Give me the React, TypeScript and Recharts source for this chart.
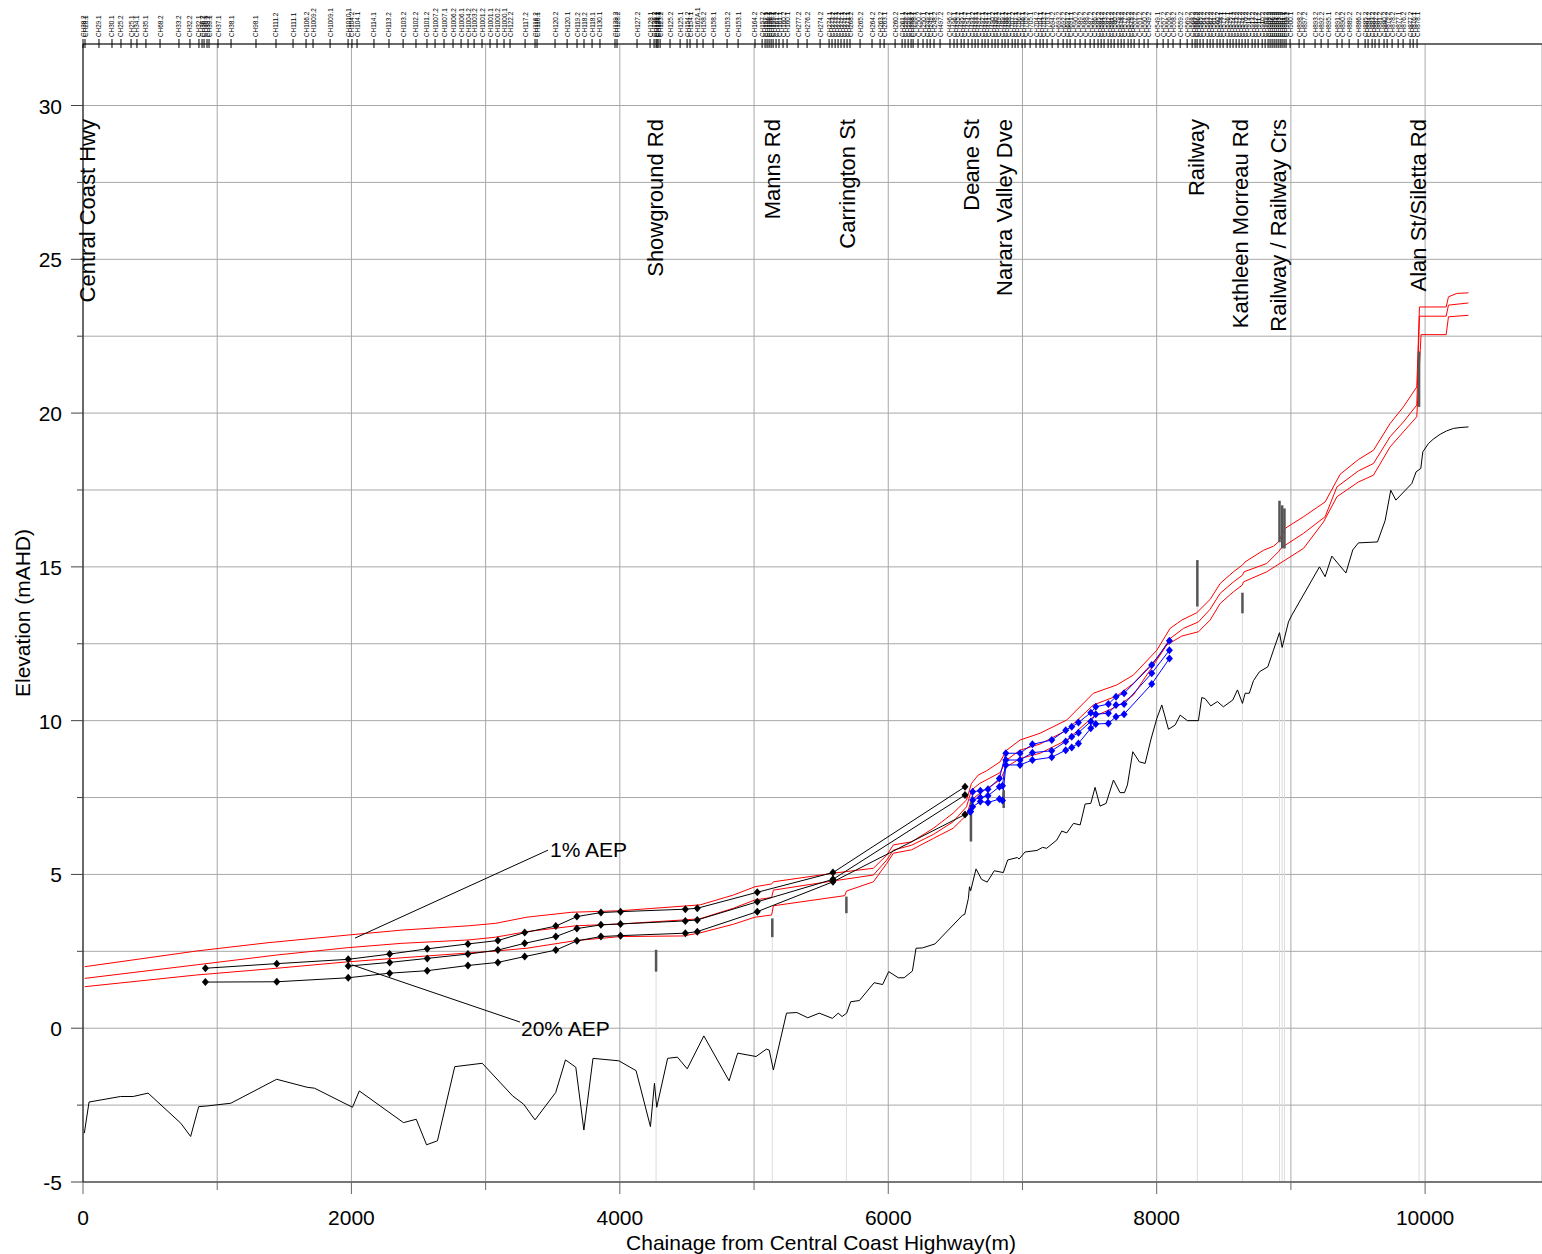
import React from 'react';
import { LineChart, Line, XAxis, YAxis, CartesianGrid, ReferenceLine, ReferenceDot } from 'recharts';

const FONT = '"Liberation Sans", Arial, sans-serif';

// [chainage (m), elevation (mAHD)]
const bedLevel: [number, number][] = [
  [10, -3.41], [45, -2.4], [280, -2.22], [374, -2.22], [485, -2.11], [729, -3.09], [802, -3.52],
  [862, -2.55], [921, -2.53], [1101, -2.44], [1443, -1.66], [1670, -1.92], [1725, -1.95],
  [2008, -2.57], [2059, -2.04], [2388, -3.07], [2483, -2.96], [2560, -3.79], [2641, -3.66],
  [2770, -1.25], [2975, -1.14], [3201, -2.2], [3283, -2.47], [3368, -2.98], [3522, -2.09],
  [3595, -1.03], [3672, -1.27], [3732, -3.31], [3800, -0.98], [3993, -1.06], [4121, -1.38],
  [4228, -3.2], [4258, -1.79], [4275, -2.57], [4356, -0.98], [4429, -0.94], [4502, -1.32],
  [4626, -0.25], [4814, -1.71], [4878, -0.81], [5015, -0.92], [5092, -0.68], [5113, -0.71],
  [5144, -1.36], [5242, 0.49], [5319, 0.51], [5400, 0.34], [5486, 0.49], [5584, 0.32],
  [5627, 0.49], [5656, 0.38], [5690, 0.49], [5720, 0.86], [5785, 0.9], [5895, 1.48],
  [5958, 1.42], [6003, 1.84], [6075, 1.64], [6118, 1.64], [6180, 1.86], [6207, 2.6],
  [6254, 2.61], [6348, 2.74], [6555, 3.68], [6570, 3.7], [6597, 4.22], [6605, 4.6],
  [6614, 4.47], [6654, 5.18], [6695, 4.84], [6737, 4.75], [6790, 5.12], [6857, 5.06],
  [6890, 5.47], [6962, 5.55], [6975, 5.5], [7019, 5.73], [7108, 5.78], [7150, 5.88],
  [7180, 5.85], [7256, 6.12], [7293, 6.41], [7330, 6.35], [7380, 6.66], [7430, 6.61],
  [7467, 7.29], [7509, 7.31], [7541, 7.83], [7578, 7.22], [7623, 7.31], [7678, 8.07],
  [7727, 7.66], [7760, 7.66], [7782, 7.91], [7822, 8.99], [7871, 8.66], [7914, 8.61],
  [7956, 9.37], [8001, 10.07], [8038, 10.51], [8088, 9.72], [8138, 9.86], [8175, 10.18],
  [8229, 10.0], [8311, 10.0], [8336, 10.75], [8360, 10.72], [8403, 10.48], [8452, 10.62],
  [8497, 10.45], [8567, 10.67], [8602, 11.0], [8639, 10.56], [8659, 10.89], [8690, 10.89],
  [8721, 11.3], [8766, 11.59], [8828, 11.75], [8870, 12.29], [8915, 12.86], [8935, 12.38],
  [8982, 13.21], [9007, 13.43], [9213, 15.0], [9255, 14.68], [9305, 15.35], [9410, 14.8],
  [9461, 15.55], [9503, 15.78], [9645, 15.81], [9702, 16.5], [9744, 17.49], [9782, 17.17],
  [9901, 17.71], [9933, 18.09], [9968, 18.2], [9983, 18.74], [10025, 19.01], [10060, 19.15],
  [10112, 19.31], [10160, 19.42], [10211, 19.5], [10260, 19.53], [10323, 19.55],
];

// modelled flood levels along the full reach
const floodLevelHigh: [number, number][] = [
  [13, 2.0], [845, 2.51], [1378, 2.78], [1976, 3.03], [2376, 3.19], [2874, 3.33], [3074, 3.41],
  [3307, 3.61], [3640, 3.77], [4005, 3.82], [4473, 3.97], [4598, 4.01], [4846, 4.33],
  [5007, 4.6], [5131, 4.69], [5144, 4.76], [5591, 5.04], [5889, 5.2], [5989, 5.63],
  [6038, 5.96], [6174, 6.06], [6336, 6.5], [6483, 6.99], [6583, 7.42], [6620, 7.96],
  [6670, 8.23], [6733, 8.37], [6833, 8.66], [6882, 9.04], [6982, 9.37], [7131, 9.59],
  [7330, 10.02], [7528, 10.89], [7702, 11.16], [7826, 11.48], [8001, 12.29], [8100, 13.0],
  [8187, 13.27], [8299, 13.51], [8398, 13.94], [8473, 14.46], [8572, 14.84], [8639, 15.06],
  [8659, 15.16], [8796, 15.54], [8870, 15.67], [8907, 15.81], [8957, 16.25], [9094, 16.63],
  [9255, 17.11], [9367, 18.01], [9503, 18.49], [9615, 18.79], [9739, 19.66], [9838, 20.2],
  [9938, 20.85], [9958, 23.45], [10157, 23.45], [10174, 23.78], [10236, 23.89], [10323, 23.91],
];
const floodLevelMid: [number, number][] = [
  [13, 1.62], [845, 2.06], [1444, 2.38], [1976, 2.62], [2376, 2.76], [2874, 2.87], [3074, 2.96],
  [3307, 3.14], [3673, 3.33], [4005, 3.39], [4473, 3.52], [4598, 3.56], [4846, 3.9],
  [5007, 4.17], [5131, 4.25], [5144, 4.49], [5591, 4.79], [5889, 4.98], [5989, 5.47],
  [6038, 5.79], [6174, 5.95], [6336, 6.3], [6483, 6.71], [6583, 7.2], [6620, 7.74],
  [6682, 7.96], [6833, 8.31], [6882, 8.72], [6982, 9.04], [7131, 9.24], [7330, 9.69],
  [7528, 10.51], [7702, 10.8], [7826, 11.21], [8013, 12.08], [8100, 12.67], [8200, 13.0],
  [8311, 13.21], [8398, 13.62], [8473, 14.14], [8572, 14.51], [8639, 14.73], [8651, 14.84],
  [8820, 15.11], [8907, 15.49], [8932, 15.63], [9094, 16.09], [9255, 16.63], [9343, 17.6],
  [9503, 18.12], [9615, 18.36], [9739, 19.23], [9838, 19.71], [9938, 20.26], [9958, 23.15],
  [10157, 23.15], [10174, 23.51], [10323, 23.58],
];
const floodLevelLow: [number, number][] = [
  [13, 1.35], [845, 1.73], [1444, 1.95], [1976, 2.16], [2376, 2.29], [3074, 2.51], [3307, 2.6],
  [3673, 2.85], [4005, 2.98], [4473, 3.0], [4598, 3.1], [4846, 3.38], [5007, 3.61],
  [5131, 3.68], [5144, 3.98], [5676, 4.31], [5689, 4.46], [5889, 4.76], [5989, 5.36],
  [6038, 5.69], [6174, 5.8], [6336, 6.17], [6483, 6.5], [6583, 6.93], [6620, 7.42],
  [6682, 7.64], [6833, 8.07], [6882, 8.5], [6982, 8.77], [7131, 8.94], [7330, 9.37],
  [7528, 10.13], [7702, 10.45], [7826, 10.83], [8075, 12.46], [8187, 12.75], [8311, 12.89],
  [8398, 13.27], [8473, 13.81], [8572, 14.19], [8639, 14.41], [8646, 14.51], [8820, 14.84],
  [8957, 15.22], [9094, 15.6], [9243, 16.46], [9343, 17.28], [9503, 17.76], [9615, 17.98],
  [9739, 18.9], [9838, 19.39], [9938, 19.88], [9970, 22.55], [10157, 22.55], [10174, 23.13],
  [10323, 23.18],
];

// lower reach cross-section results (black)
const lowerReach1pc: [number, number][] = [
  [912, 1.95], [1444, 2.1], [1976, 2.24], [2285, 2.41], [2565, 2.58], [2868, 2.74], [3091, 2.85],
  [3291, 3.11], [3523, 3.32], [3680, 3.63], [3859, 3.76], [4005, 3.79], [4488, 3.87],
  [4577, 3.9], [5024, 4.42], [5588, 5.06], [6572, 7.85],
];
const lowerReach5pc: [number, number][] = [
  [1976, 2.02], [2285, 2.14], [2565, 2.27], [2868, 2.41], [3091, 2.54], [3291, 2.76],
  [3523, 2.98], [3680, 3.24], [3859, 3.36], [4005, 3.39], [4488, 3.49], [4577, 3.52],
  [5024, 4.11], [5588, 4.84], [6572, 7.58],
];
const lowerReach20pc: [number, number][] = [
  [912, 1.5], [1444, 1.51], [1976, 1.64], [2285, 1.79], [2565, 1.87], [2868, 2.04], [3091, 2.14],
  [3291, 2.33], [3523, 2.54], [3680, 2.84], [3859, 2.98], [4005, 3.01], [4488, 3.09],
  [4577, 3.14], [5024, 3.79], [5588, 4.76], [6572, 6.95],
];

// upper reach cross-section results (blue)
const upperReach1pc: [number, number][] = [
  [6612, 7.05], [6629, 7.69], [6686, 7.72], [6743, 7.77], [6828, 8.12], [6876, 8.94],
  [6982, 8.94], [7074, 9.23], [7218, 9.37], [7322, 9.69], [7367, 9.8], [7417, 9.94],
  [7509, 10.26], [7546, 10.45], [7640, 10.54], [7697, 10.78], [7757, 10.89], [7963, 11.81],
  [8095, 12.6],
];
const upperReach5pc: [number, number][] = [
  [6612, 7.05], [6629, 7.42], [6686, 7.5], [6743, 7.56], [6828, 7.85], [6851, 7.88],
  [6876, 8.72], [6982, 8.72], [7074, 8.96], [7218, 9.02], [7322, 9.32], [7367, 9.48],
  [7417, 9.61], [7509, 9.97], [7546, 10.21], [7640, 10.24], [7697, 10.51], [7757, 10.54],
  [7963, 11.54], [8095, 12.29],
];
const upperReach20pc: [number, number][] = [
  [6612, 7.04], [6629, 7.2], [6686, 7.37], [6743, 7.34], [6828, 7.45], [6851, 7.4],
  [6876, 8.56], [6982, 8.56], [7074, 8.72], [7218, 8.81], [7322, 9.04], [7367, 9.13],
  [7417, 9.26], [7509, 9.75], [7546, 9.89], [7640, 9.91], [7697, 10.13], [7757, 10.21],
  [7963, 11.19], [8095, 12.02],
];

// crossings: chainage, soffit/obvert range
const structureChainage = [4270, 5136, 5688, 6616, 6860, 8303, 8639, 8915, 8935, 8952, 9955];
const structureBottom = [1.84, 2.96, 3.74, 6.07, 7.16, 13.71, 13.49, 15.8, 15.6, 15.6, 20.2];
const structureTop = [2.55, 3.57, 4.28, 7.37, 7.74, 15.22, 14.16, 17.15, 17.0, 16.9, 22.0];

const roadNames = [
  'Central Coast Hwy', 'Showground Rd', 'Manns Rd', 'Carrington St', 'Deane St',
  'Narara Valley Dve', 'Railway', 'Kathleen Morreau Rd', 'Railway / Railway Crs', 'Alan St/Siletta Rd',
];
const roadChainage = [37, 4262, 5134, 5700, 6617, 6863, 8294, 8621, 8905, 9948];

const aepLabels = ['1% AEP', '20% AEP'];
const aepLeaderFrom: [number, number][] = [[2027, 2.93], [2004, 2.06]];
const aepLeaderTo: [number, number][] = [[3465, 5.79], [3256, 0.2]];
const aepTextAt: [number, number][] = [[3487, 5.8], [3271, 0.0]];

const sectionLabels = [
  'CH28.2', 'CH28.1', 'CH29.1', 'CH30.1', 'CH25.2', 'CH25.1', 'CH34.1', 'CH35.1', 'CH68.2', 'CH33.2',
  'CH32.2', 'CH32.1', 'CH36.2', 'CH36.1', 'CH39.2', 'CH39.1', 'CH37.1', 'CH38.1', 'CH98.1', 'CH111.2',
  'CH111.1', 'CH106.2', 'CH1009.2', 'CH1009.1', 'CH1010.1', 'CH104.2', 'CH104.1', 'CH114.1', 'CH113.2', 'CH103.2',
  'CH102.2', 'CH101.2', 'CH1007.2', 'CH1007.1', 'CH1006.2', 'CH1006.1', 'CH1004.2', 'CH1003.2', 'CH1001.2', 'CH1001.1',
  'CH1000.2', 'CH1000.1', 'CH122.2', 'CH117.2', 'CH116.2', 'CH116.1', 'CH120.2', 'CH120.1', 'CH119.2', 'CH118.2',
  'CH118.1', 'CH130.1', 'CH129.2', 'CH128.2', 'CH127.2', 'CH128.1', 'CH126.2', 'CH126.1', 'CH124.2', 'CH124.1',
  'CH123.2', 'CH125.2', 'CH125.1', 'CH154.2', 'CH154.1', 'CH162A.1', 'CH158.2', 'CH158.1', 'CH153.2', 'CH153.1',
  'CH164.2', 'CH157.2', 'CH157.1', 'CH156.2', 'CH156.1', 'CH155.2', 'CH155.1', 'CH161.2', 'CH161.1', 'CH160.2',
  'CH160.1', 'CH277.2', 'CH276.2', 'CH274.2', 'CH274.1', 'CH273.2', 'CH273.1', 'CH272.2', 'CH272.1', 'CH271.2',
  'CH271.1', 'CH268.2', 'CH265.2', 'CH264.2', 'CH263.2', 'CH263.1', 'CH260.2', 'CH261.1', 'CH259.2', 'CH259.1',
  'CH258.2', 'CH258.1', 'CH250.2', 'CH250.1', 'CH249.2', 'CH249.1', 'CH248.2', 'CH497.2', 'CH496.2', 'CH496.1',
  'CH495.2', 'CH495.1', 'CH494.2', 'CH494.1', 'CH493.2', 'CH493.1', 'CH492.2', 'CH492.1', 'CH491.2', 'CH491.1',
  'CH490.2', 'CH490.1', 'CH489.2', 'CH489.1', 'CH488.2', 'CH488.1', 'CH707.2', 'CH707.1', 'CH706.2', 'CH706.1',
  'CH705.2', 'CH705.1', 'CH704.2', 'CH704.1', 'CH703.2', 'CH703.1', 'CH694.2', 'CH693.2', 'CH692.2', 'CH691.2',
  'CH691.1', 'CH590.2', 'CH589.2', 'CH588.2', 'CH587.2', 'CH586.2', 'CH585.2', 'CH584.2', 'CH583.2', 'CH582.2',
  'CH581.2', 'CH580.2', 'CH579.2', 'CH578.2', 'CH577.2', 'CH576.2', 'CH575.2', 'CH552.2', 'CH551.2', 'CH550.2',
  'CH549.2', 'CH549.1', 'CH557.2', 'CH556.2', 'CH558.2', 'CH559.2', 'CH569.2', 'CH568.2', 'CH567.2', 'CH566.2',
  'CH565.2', 'CH564.2', 'CH563.2', 'CH562.2', 'CH561.2', 'CH560.2', 'CH578.1', 'CH577.1', 'CH576.1', 'CH575.1',
  'CH574.2', 'CH573.2', 'CH572.2', 'CH571.2', 'CH570.2', 'CH914.2', 'CH913.2', 'CH912.2', 'CH911.2', 'CH910.2',
  'CH909.2', 'CH908.2', 'CH907.2', 'CH906.2', 'CH905.2', 'CH904.2', 'CH903.2', 'CH902.2', 'CH901.2', 'CH901.1',
  'CH900.2', 'CH900.1', 'CH898.2', 'CH897.2', 'CH893.2', 'CH892.2', 'CH895.1', 'CH891.2', 'CH890.2', 'CH889.2',
  'CH886.2', 'CH885.2', 'CH884.2', 'CH883.2', 'CH882.2', 'CH881.2', 'CH880.2', 'CH879.2', 'CH878.2', 'CH877.1',
  'CH876.2', 'CH877.2', 'CH876.1', 'CH878.1',
];
const sectionChainage = [
  0, 15, 119, 216, 283, 358, 402, 469, 574, 715,
  797, 864, 887, 902, 924, 939, 1006, 1103, 1289, 1438,
  1565, 1662, 1714, 1841, 1975, 2004, 2042, 2168, 2280, 2385,
  2481, 2563, 2623, 2690, 2757, 2817, 2869, 2914, 2973, 3033,
  3085, 3137, 3182, 3294, 3368, 3383, 3517, 3607, 3681, 3733,
  3793, 3852, 3964, 3979, 4128, 4225, 4255, 4270, 4277, 4285,
  4300, 4374, 4449, 4501, 4523, 4575, 4620, 4695, 4799, 4881,
  5007, 5060, 5082, 5097, 5112, 5127, 5142, 5164, 5186, 5216,
  5246, 5328, 5395, 5492, 5559, 5581, 5604, 5626, 5648, 5671,
  5693, 5715, 5790, 5879, 5939, 5969, 6051, 6103, 6125, 6148,
  6170, 6185, 6222, 6259, 6289, 6312, 6341, 6386, 6460, 6490,
  6513, 6543, 6565, 6595, 6624, 6647, 6669, 6699, 6721, 6744,
  6773, 6796, 6818, 6848, 6870, 6893, 6923, 6945, 6967, 6997,
  7019, 7057, 7101, 7131, 7154, 7183, 7221, 7265, 7303, 7332,
  7355, 7392, 7429, 7467, 7504, 7534, 7563, 7586, 7608, 7638,
  7660, 7683, 7712, 7735, 7757, 7787, 7809, 7832, 7869, 7906,
  7936, 8003, 8048, 8085, 8122, 8175, 8227, 8264, 8286, 8301,
  8323, 8346, 8376, 8398, 8420, 8450, 8472, 8495, 8525, 8547,
  8569, 8592, 8614, 8636, 8659, 8681, 8711, 8733, 8756, 8786,
  8808, 8830, 8845, 8860, 8875, 8890, 8905, 8920, 8934, 8949,
  8964, 8994, 9061, 9098, 9180, 9225, 9277, 9344, 9381, 9434,
  9501, 9553, 9575, 9605, 9627, 9657, 9694, 9717, 9754, 9799,
  9836, 9888, 9911, 9940,
];

const chainageTicks = [0, 1000, 2000, 3000, 4000, 5000, 6000, 7000, 8000, 9000, 10000];
const elevationTicks = [-5, -2.5, 0, 2.5, 5, 7.5, 10, 12.5, 15, 17.5, 20, 22.5, 25, 27.5, 30];

const pts = (arr: [number, number][]) => arr.map(([c, e]) => ({ c, e }));

const diamond = (color: string) => (p: any) => {
  const { cx, cy, index } = p;
  if (cx == null || cy == null) return <g key={index} />;
  return (
    <path
      key={index}
      d={`M${cx} ${cy - 4}L${cx + 3.5} ${cy}L${cx} ${cy + 4}L${cx - 3.5} ${cy}Z`}
      fill={color}
    />
  );
};

function SectionTick(props: any) {
  const { x, y, index } = props;
  return (
    <g>
      <line x1={x} y1={y - 5} x2={x} y2={y + 4} stroke="#000" strokeWidth={1} />
      <text
        x={x}
        y={y - 7}
        transform={`rotate(-90 ${x} ${y - 7})`}
        fontSize={6.4}
        fontFamily={FONT}
        textAnchor="start"
        dominantBaseline="central"
        fill="#000"
      >
        {sectionLabels[index]}
      </text>
    </g>
  );
}

function ChainageTick(props: any) {
  const { x, y, payload } = props;
  const major = payload.value % 2000 === 0;
  return (
    <g>
      <line x1={x} y1={y} x2={x} y2={y + (major ? 12 : 8)} stroke="#666" strokeWidth={1} />
      {major && (
        <text x={x} y={y + 43} textAnchor="middle" fontSize={21} fontFamily={FONT} fill="#000">
          {payload.value}
        </text>
      )}
    </g>
  );
}

function ElevationTick(props: any) {
  const { x, y, payload } = props;
  const major = payload.value % 5 === 0;
  return (
    <g>
      <line x1={x - (major ? 12 : 6)} y1={y} x2={x} y2={y} stroke="#444" strokeWidth={1} />
      {major && (
        <text x={x - 21} y={y + 8} textAnchor="end" fontSize={21} fontFamily={FONT} fill="#000">
          {payload.value}
        </text>
      )}
    </g>
  );
}

const roadLabel = (name: string) => (p: any) => {
  const x = p.viewBox.x + p.viewBox.width / 2;
  return (
    <text
      x={x}
      y={119}
      transform={`rotate(-90 ${x} 119)`}
      textAnchor="end"
      dominantBaseline="central"
      fontSize={22}
      fontFamily={FONT}
      fill="#000"
    >
      {name}
    </text>
  );
};

const aepLabel = (text: string) => (p: any) => (
  <text
    x={p.viewBox.x}
    y={p.viewBox.y + p.viewBox.height / 2}
    dominantBaseline="central"
    fontSize={21}
    fontFamily={FONT}
    fill="#000"
  >
    {text}
  </text>
);

export default function App() {
  return (
    <div style={{ position: 'fixed', left: 0, top: 0, width: 1542, height: 1254, background: '#fff' }}>
      <LineChart width={1542} height={1254} margin={{ top: 0, right: 0, bottom: 0, left: 0 }}>
        <CartesianGrid stroke="#a8a8a8" strokeWidth={1} />
        <XAxis
          type="number"
          dataKey="c"
          domain={[0, 10871]}
          allowDataOverflow
          ticks={chainageTicks}
          interval={0}
          height={72}
          tickSize={0}
          tickMargin={0}
          tickLine={false}
          axisLine={{ stroke: '#777', strokeWidth: 2 }}
          tick={<ChainageTick />}
          label={(p: any) => (
            <text
              x={p.viewBox.x + 738}
              y={p.viewBox.y + 68}
              textAnchor="middle"
              fontSize={21}
              fontFamily={FONT}
              fill="#000"
            >
              Chainage from Central Coast Highway(m)
            </text>
          )}
        />
        <XAxis
          xAxisId="top"
          orientation="top"
          type="number"
          dataKey="c"
          domain={[0, 10871]}
          allowDataOverflow
          ticks={sectionChainage}
          interval={0}
          height={44}
          tickSize={0}
          tickMargin={0}
          tickLine={false}
          axisLine={{ stroke: '#000', strokeWidth: 1 }}
          tick={<SectionTick />}
        />
        <YAxis
          type="number"
          domain={[-5, 32]}
          allowDataOverflow
          ticks={elevationTicks}
          interval={0}
          width={83}
          tickSize={0}
          tickMargin={0}
          tickLine={false}
          axisLine={{ stroke: '#000', strokeWidth: 1 }}
          tick={<ElevationTick />}
          label={(p: any) => (
            <text
              x={22}
              y={613}
              transform="rotate(-90 22 613)"
              textAnchor="middle"
              dominantBaseline="central"
              fontSize={21}
              fontFamily={FONT}
              fill="#000"
            >
              Elevation (mAHD)
            </text>
          )}
        />

        {structureChainage.map((c, i) => (
          <ReferenceLine
            key={`drop-${i}`}
            segment={[{ x: c, y: -5 }, { x: c, y: structureBottom[i] }]}
            stroke="#dcdcdc"
            strokeWidth={1}
          />
        ))}

        <Line data={pts(bedLevel)} dataKey="e" stroke="#000" strokeWidth={1} dot={false} activeDot={false} isAnimationActive={false} />
        <Line data={pts(floodLevelHigh)} dataKey="e" stroke="#ff0000" strokeWidth={1} dot={false} activeDot={false} isAnimationActive={false} />
        <Line data={pts(floodLevelMid)} dataKey="e" stroke="#ff0000" strokeWidth={1} dot={false} activeDot={false} isAnimationActive={false} />
        <Line data={pts(floodLevelLow)} dataKey="e" stroke="#ff0000" strokeWidth={1} dot={false} activeDot={false} isAnimationActive={false} />
        <Line data={pts(lowerReach1pc)} dataKey="e" stroke="#000" strokeWidth={1} dot={diamond('#000')} activeDot={false} isAnimationActive={false} />
        <Line data={pts(lowerReach5pc)} dataKey="e" stroke="#000" strokeWidth={1} dot={diamond('#000')} activeDot={false} isAnimationActive={false} />
        <Line data={pts(lowerReach20pc)} dataKey="e" stroke="#000" strokeWidth={1} dot={diamond('#000')} activeDot={false} isAnimationActive={false} />
        <Line data={pts(upperReach1pc)} dataKey="e" stroke="#0000ff" strokeWidth={1} dot={diamond('#0000ff')} activeDot={false} isAnimationActive={false} />
        <Line data={pts(upperReach5pc)} dataKey="e" stroke="#0000ff" strokeWidth={1} dot={diamond('#0000ff')} activeDot={false} isAnimationActive={false} />
        <Line data={pts(upperReach20pc)} dataKey="e" stroke="#0000ff" strokeWidth={1} dot={diamond('#0000ff')} activeDot={false} isAnimationActive={false} />

        {structureChainage.map((c, i) => (
          <ReferenceLine
            key={`deck-${i}`}
            segment={[{ x: c, y: structureBottom[i] }, { x: c, y: structureTop[i] }]}
            stroke="#555"
            strokeWidth={2.5}
          />
        ))}

        {aepLabels.map((t, i) => (
          <ReferenceLine
            key={`leader-${i}`}
            segment={[
              { x: aepLeaderFrom[i][0], y: aepLeaderFrom[i][1] },
              { x: aepLeaderTo[i][0], y: aepLeaderTo[i][1] },
            ]}
            stroke="#000"
            strokeWidth={1}
          />
        ))}
        {aepLabels.map((t, i) => (
          <ReferenceDot
            key={`aep-${i}`}
            x={aepTextAt[i][0]}
            y={aepTextAt[i][1]}
            r={1}
            fill="none"
            stroke="none"
            label={aepLabel(t)}
          />
        ))}

        {roadNames.map((n, i) => (
          <ReferenceDot
            key={`road-${i}`}
            x={roadChainage[i]}
            y={31}
            r={1}
            fill="none"
            stroke="none"
            label={roadLabel(n)}
          />
        ))}
      </LineChart>
    </div>
  );
}
